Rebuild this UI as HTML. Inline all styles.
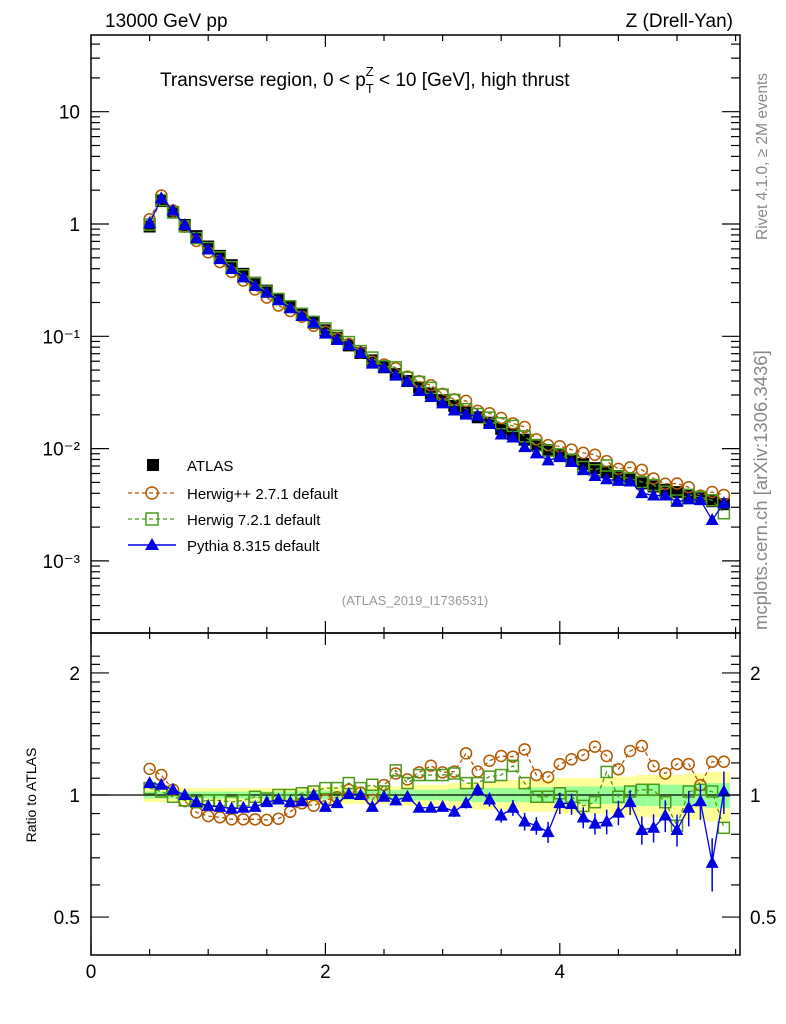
<!DOCTYPE html>
<html><head><meta charset="utf-8"><style>
body{margin:0;background:#fff;}
svg{display:block;font-family:"Liberation Sans",sans-serif;}
</style></head><body>
<svg id="chart" width="786" height="1024" xmlns="http://www.w3.org/2000/svg">
<g id="bands"></g>
<g id="marks"></g>
<g id="axes"></g>
<text x="105" y="27" font-size="19">13000 GeV pp</text>
<text x="733" y="27" font-size="19" text-anchor="end">Z (Drell-Yan)</text>
<text x="160" y="86" font-size="19">Transverse region, 0 &lt; p<tspan font-size="13" dy="7">T</tspan><tspan font-size="13" dx="-8" dy="-17">Z</tspan><tspan dy="10"> &lt; 10 [GeV], high thrust</tspan></text>
<text x="415" y="605" font-size="13" fill="#999" text-anchor="middle">(ATLAS_2019_I1736531)</text>
<text transform="translate(767,240) rotate(-90)" font-size="15.5" fill="#888">Rivet 4.1.0, ≥ 2M events</text>
<text transform="translate(767,630) rotate(-90)" font-size="18.5" fill="#888">mcplots.cern.ch [arXiv:1306.3436]</text>
<text transform="translate(36,795) rotate(-90)" font-size="14" text-anchor="middle">Ratio to ATLAS</text>
<g id="legend">
 <rect x="147" y="459" width="12" height="12" fill="#000"/>
 <text x="187" y="471" font-size="15">ATLAS</text>
 <line x1="128" y1="493" x2="176" y2="493" stroke="#b35900" stroke-dasharray="4,3" stroke-width="1.3"/>
 <circle cx="152" cy="493" r="6" fill="none" stroke="#b35900" stroke-width="1.5"/>
 <text x="187" y="499" font-size="15">Herwig++ 2.7.1 default</text>
 <line x1="128" y1="519" x2="176" y2="519" stroke="#4c9a1a" stroke-dasharray="4,3" stroke-width="1.3"/>
 <rect x="146" y="513" width="12" height="12" fill="none" stroke="#4c9a1a" stroke-width="1.5"/>
 <text x="187" y="525" font-size="15">Herwig 7.2.1 default</text>
 <line x1="128" y1="545" x2="176" y2="545" stroke="#0000e0" stroke-width="1.5"/>
 <polygon points="152,538 159,550 145,550" fill="#0000e0"/>
 <text x="187" y="551" font-size="15">Pythia 8.315 default</text>
</g>
</svg>
<script>
const xVals=[0.5,0.6,0.7,0.8,0.9,1.0,1.1,1.2,1.3,1.4,1.5,1.6,1.7,1.8,1.9,2.0,2.1,2.2,2.3,2.4,2.5,2.6,2.7,2.8,2.9,3.0,3.1,3.2,3.3,3.4,3.5,3.6,3.7,3.8,3.9,4.0,4.1,4.2,4.3,4.4,4.5,4.6,4.7,4.8,4.9,5.0,5.1,5.2,5.3,5.4];
const atlasVals=[0.95,1.6,1.28,0.98,0.78,0.63,0.52,0.43,0.36,0.30,0.255,0.215,0.185,0.157,0.132,0.113,0.097,0.083,0.071,0.061,0.053,0.046,0.040,0.035,0.031,0.027,0.024,0.021,0.019,0.017,0.015,0.0135,0.012,0.0108,0.0097,0.0088,0.0080,0.0073,0.0067,0.0062,0.0057,0.0053,0.0049,0.0046,0.0043,0.0041,0.0038,0.0036,0.0034,0.0032];
const herwigppRatio=[1.16,1.12,1.03,0.966,0.906,0.887,0.881,0.871,0.871,0.871,0.868,0.874,0.909,0.954,0.941,0.972,0.987,1.03,1.013,0.972,1.058,1.13,1.093,1.137,1.181,1.137,1.142,1.267,1.142,1.215,1.248,1.243,1.296,1.12,1.106,1.192,1.225,1.255,1.316,1.248,1.157,1.284,1.321,1.179,1.13,1.192,1.192,1.058,1.208,1.208];
const herwig7Ratio=[1.04,1.02,0.99,0.97,0.96,0.97,0.97,0.96,0.97,0.99,0.98,1.0,1.0,1.01,1.02,1.04,1.04,1.07,1.04,1.06,1.02,1.15,1.07,1.12,1.12,1.12,1.13,1.07,1.07,1.11,1.12,1.18,1.07,0.99,0.99,1.01,0.99,0.94,0.96,1.14,0.99,1.02,1.03,1.03,0.96,0.84,1.02,1.03,1.02,0.83];
const pythiaRatio=[1.07,1.06,1.03,1.0,0.96,0.94,0.935,0.925,0.93,0.935,0.96,0.975,0.96,0.965,1.0,0.935,0.955,1.005,1.0,0.935,0.99,0.97,0.99,0.93,0.93,0.935,0.91,0.955,1.03,0.975,0.89,0.93,0.86,0.84,0.81,0.955,0.95,0.88,0.85,0.86,0.905,0.96,0.82,0.83,0.89,0.82,0.93,0.965,0.68,1.02];
const pythiaErr=[0.01,0.01,0.01,0.01,0.01,0.01,0.01,0.01,0.01,0.01,0.01,0.01,0.01,0.01,0.01,0.015,0.015,0.015,0.015,0.02,0.02,0.02,0.02,0.02,0.025,0.025,0.03,0.03,0.035,0.04,0.04,0.045,0.05,0.05,0.06,0.06,0.06,0.06,0.06,0.07,0.07,0.07,0.08,0.08,0.09,0.09,0.1,0.1,0.15,0.12];
const bandInner=[0.02,0.02,0.02,0.02,0.02,0.02,0.02,0.02,0.02,0.02,0.02,0.02,0.02,0.025,0.025,0.025,0.025,0.025,0.025,0.03,0.03,0.03,0.03,0.03,0.03,0.03,0.035,0.035,0.04,0.04,0.04,0.04,0.04,0.045,0.045,0.045,0.05,0.05,0.05,0.05,0.05,0.05,0.06,0.06,0.06,0.06,0.06,0.06,0.07,0.07];
const bandOuter=[0.04,0.04,0.04,0.04,0.04,0.04,0.04,0.04,0.04,0.04,0.04,0.04,0.04,0.045,0.045,0.05,0.05,0.05,0.05,0.05,0.05,0.05,0.06,0.06,0.06,0.06,0.07,0.07,0.08,0.08,0.08,0.09,0.09,0.09,0.09,0.1,0.1,0.1,0.1,0.1,0.11,0.11,0.12,0.12,0.12,0.12,0.13,0.13,0.14,0.14];
const xTicks=[0,2,4];
const mainTicks=[{v:10,l:"10"},{v:1,l:"1"},{v:0.1,l:"10⁻¹"},{v:0.01,l:"10⁻²"},{v:0.001,l:"10⁻³"}];
const ratioTicks=[{v:2,l:"2"},{v:1,l:"1"},{v:0.5,l:"0.5"}];

const NS="http://www.w3.org/2000/svg";
const L=91,R=740,MT=35,MB=633,RT=633,RB=955;
const sx=x=>L+x*117.2;
const sy=v=>224-Math.log10(v)*112.3;
const sr=r=>795-Math.log10(r)*405.4;
function mk(parent,tag,attrs){const e=document.createElementNS(NS,tag);for(const k in attrs)e.setAttribute(k,attrs[k]);document.getElementById(parent).appendChild(e);return e;}
for(let i=0;i<xVals.length;i++){
 const x0=sx(xVals[i]-0.05),x1=sx(xVals[i]+0.05);
 let e=mk('bands','rect',{x:x0,y:sr(1+bandOuter[i]),width:x1-x0,height:sr(1-bandOuter[i])-sr(1+bandOuter[i]),fill:'#ffff99'});
 
 
 e=mk('bands','rect',{x:x0,y:sr(1+bandInner[i]),width:x1-x0,height:sr(1-bandInner[i])-sr(1+bandInner[i]),fill:'#99ff99'});
 
 
}
mk('marks','line',{x1:L,x2:R,y1:sr(1),y2:sr(1),stroke:'#000','stroke-width':1.3});
function series(vals,ry,color,dash,shape,ratio,noLine){
 if(!noLine){
 const pts=xVals.map((x,i)=>sx(x)+','+ry(vals[i])).join(' ');
 const pl=mk('marks','polyline',{points:pts,fill:'none',stroke:color,'stroke-width':1.3});
 if(dash)pl.setAttribute('stroke-dasharray',dash);
 
 
 }
 xVals.forEach((x,i)=>{
  const cx=sx(x),cy=ry(vals[i]);let e;
  if(ratio&&shape==='tri'){mk('marks','line',{x1:cx,x2:cx,y1:sr(vals[i]*(1+pythiaErr[i])),y2:sr(vals[i]*(1-pythiaErr[i])),stroke:color,'stroke-width':1.5});}
  if(shape==='circle')e=mk('marks','circle',{cx:cx,cy:cy,r:5.5,fill:'none',stroke:color,'stroke-width':1.5});
  else if(shape==='square')e=mk('marks','rect',{x:cx-5.5,y:cy-5.5,width:11,height:11,fill:'none',stroke:color,'stroke-width':1.5});
  else if(shape==='fsquare')e=mk('marks','rect',{x:cx-6,y:cy-6,width:12,height:12,fill:color});
  else e=mk('marks','polygon',{points:`${cx},${cy-7} ${cx+6.5},${cy+5} ${cx-6.5},${cy+5}`,fill:color});
  
  
 });
}
const hpp=atlasVals.map((v,i)=>v*herwigppRatio[i]);
const h7=atlasVals.map((v,i)=>v*herwig7Ratio[i]);
const py=atlasVals.map((v,i)=>v*pythiaRatio[i]);
series(atlasVals,sy,'#000',null,'fsquare',false,true);
series(hpp,sy,'#b35900','4,3','circle',false);
series(h7,sy,'#4c9a1a','4,3','square',false);
series(py,sy,'#0000e0',null,'tri',false);
series(herwigppRatio,sr,'#b35900','4,3','circle',true);
series(herwig7Ratio,sr,'#4c9a1a','4,3','square',true);
series(pythiaRatio,sr,'#0000e0',null,'tri',true);
let f=mk('axes','rect',{x:L,y:MT,width:R-L,height:MB-MT,fill:'none',stroke:'#000','stroke-width':1.5});


f=mk('axes','rect',{x:L,y:RT,width:R-L,height:RB-RT,fill:'none',stroke:'#000','stroke-width':1.5});


for(let x=0;x<=5.5;x+=0.5){
 const big=xTicks.includes(x);const len=big?12:6;
 mk('axes','line',{x1:sx(x),x2:sx(x),y1:RB,y2:RB-len,stroke:'#000','stroke-width':1.2});
 mk('axes','line',{x1:sx(x),x2:sx(x),y1:RT,y2:RT+len,stroke:'#000','stroke-width':1.2});
 mk('axes','line',{x1:sx(x),x2:sx(x),y1:MB,y2:MB-len,stroke:'#000','stroke-width':1.2});
 mk('axes','line',{x1:sx(x),x2:sx(x),y1:MT,y2:MT+len,stroke:'#000','stroke-width':1.2});
}
xTicks.forEach(x=>{const t=mk('axes','text',{x:sx(x),y:978,'font-size':19,'text-anchor':'middle'});t.textContent=x;
 
 });
for(let d=-4;d<=1;d++)for(let m=1;m<10;m++){const v=m*Math.pow(10,d);const y=sy(v);if(y<MT||y>MB)continue;const len=m===1?18:9;
 mk('axes','line',{x1:L,x2:L+len,y1:y,y2:y,stroke:'#000','stroke-width':1.2});
 mk('axes','line',{x1:R,x2:R-len,y1:y,y2:y,stroke:'#000','stroke-width':1.2});}
mainTicks.forEach(t=>{const e=mk('axes','text',{x:80,y:sy(t.v)+7,'font-size':19,'text-anchor':'end'});e.textContent=t.l;
 
 });
for(let r=0.4;r<=2.3;r+=0.1){const y=sr(r);if(y<RT||y>RB)continue;const big=Math.abs(r-1)<1e-6||Math.abs(r-2)<1e-6||Math.abs(r-0.5)<1e-6;const len=big?18:9;
 mk('axes','line',{x1:L,x2:L+len,y1:y,y2:y,stroke:'#000','stroke-width':1.2});
 mk('axes','line',{x1:R,x2:R-len,y1:y,y2:y,stroke:'#000','stroke-width':1.2});}
ratioTicks.forEach(t=>{let e=mk('axes','text',{x:80,y:sr(t.v)+7,'font-size':19,'text-anchor':'end'});e.textContent=t.l;
 
 
 e=mk('axes','text',{x:750,y:sr(t.v)+7,'font-size':19});e.textContent=t.l;
 
 });
</script>
</body></html>
